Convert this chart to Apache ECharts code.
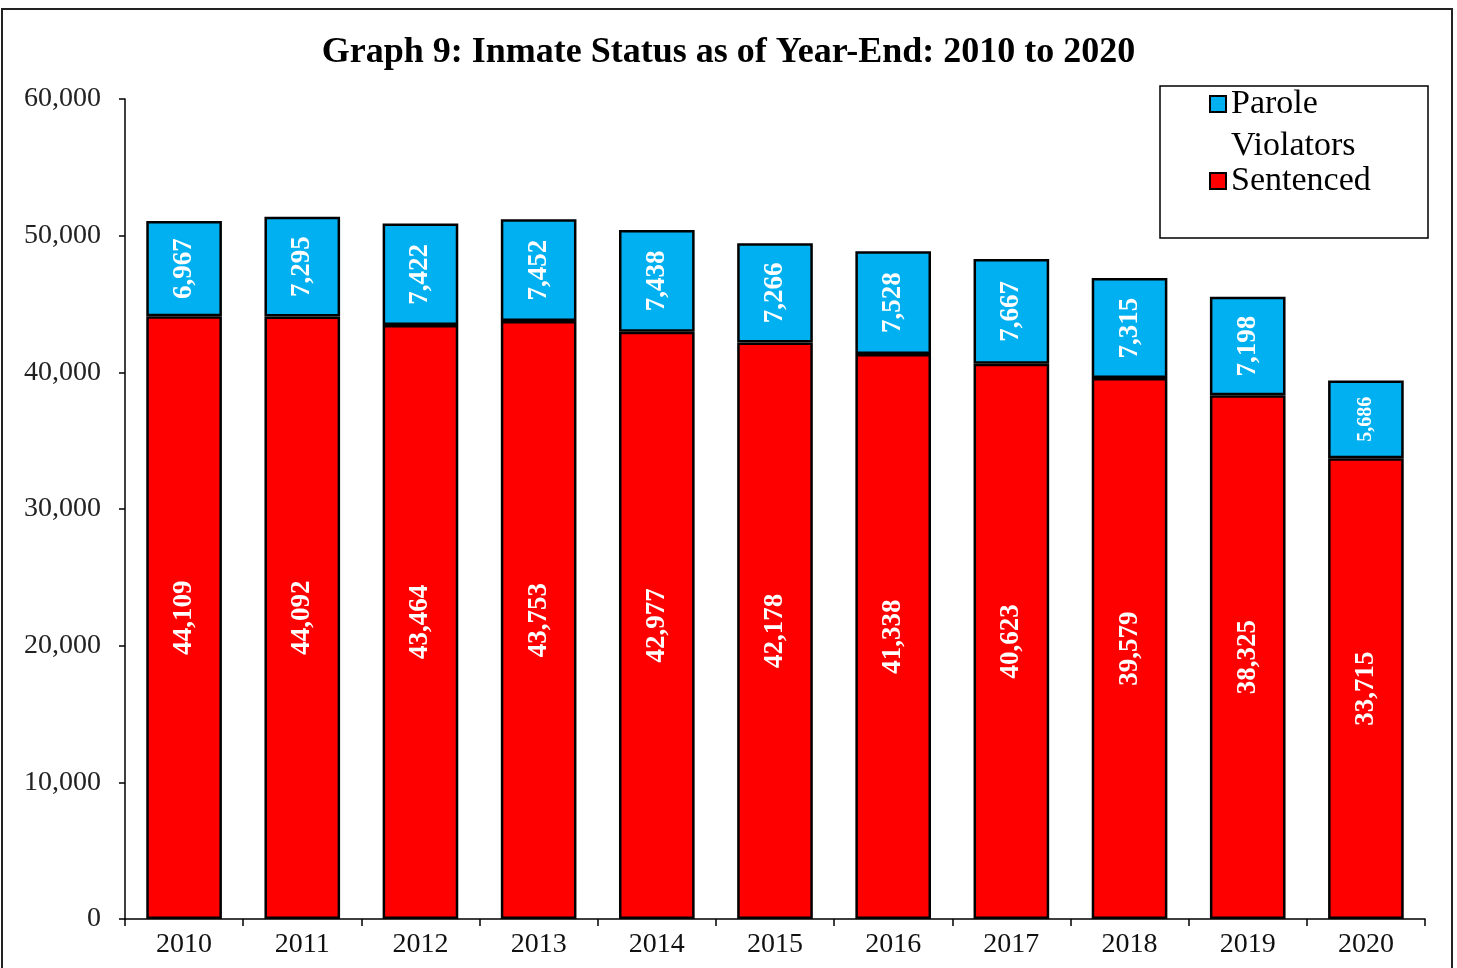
<!DOCTYPE html>
<html>
<head>
<meta charset="utf-8">
<script src="https://cdn.jsdelivr.net/npm/echarts@6/dist/echarts.min.js"></script>
<style>
  html, body { margin: 0; padding: 0; background: #fff; }
  #main { width: 1457px; height: 968px; }
</style>
</head>
<body>
<div id="main"></div>
<script>
  // values
  var years = ['2010', '2011', '2012', '2013', '2014', '2015', '2016', '2017', '2018', '2019', '2020'];
  var sentenced = [44109, 44092, 43464, 43753, 42977, 42178, 41338, 40623, 39579, 38325, 33715];
  var paroleViolators = [6967, 7295, 7422, 7452, 7438, 7266, 7528, 7667, 7315, 7198, 5686];

  var serif = 'Liberation Serif';
  var fmt = function (v) { return Number(v).toLocaleString('en-US'); };

  var chartDom = document.getElementById('main');
  var myChart = echarts.init(chartDom);
  var option;

  option = {
    backgroundColor: '#fff',
    animation: false,
    title: {
      text: 'Graph 9: Inmate Status as of Year-End: 2010 to 2020',
      left: 'center',
      top: 30,
      textStyle: {
        fontFamily: serif,
        fontWeight: 'bold',
        fontSize: 36,
        color: '#000'
      }
    },
    graphic: [
      {
        type: 'rect',
        shape: { x: 2, y: 9, width: 1450, height: 975 },
        style: { fill: 'none', stroke: '#222', lineWidth: 2 },
        silent: true
      },
      {
        type: 'rect',
        shape: { x: 1160, y: 86, width: 268, height: 152 },
        style: { fill: '#fff', stroke: '#000', lineWidth: 1.5 },
        silent: true,
        z: 0
      }
    ],
    legend: {
      orient: 'vertical',
      left: 1209,
      top: 41,
      padding: 0,
      itemWidth: 16,
      itemHeight: 16,
      itemGap: -7,
      icon: 'rect',
      z: 5,
      textStyle: {
        fontFamily: serif,
        fontSize: 34,
        lineHeight: 42,
        color: '#000',
        rich: {
          pad: { fontSize: 34, lineHeight: 42 }
        }
      },
      // an empty first line lifts the wrapped name so "Parole" sits beside the icon
      formatter: function (name) {
        return name.indexOf(' ') > 0 ? '{pad| }\n' + name.replace(' ', '\n') : name;
      },
      data: ['Parole Violators', 'Sentenced']
    },
    grid: {
      left: 125,
      right: 32,
      top: 99,
      bottom: 49
    },
    xAxis: {
      type: 'category',
      data: years,
      axisLine: { show: true, lineStyle: { color: '#000', width: 1.5 } },
      axisTick: { show: true, length: 7, lineStyle: { color: '#000', width: 1.5 } },
      axisLabel: {
        fontFamily: serif,
        fontSize: 28,
        color: '#111',
        margin: 12
      }
    },
    yAxis: {
      type: 'value',
      min: 0,
      max: 60000,
      interval: 10000,
      splitLine: { show: false },
      axisLine: { show: true, lineStyle: { color: '#000', width: 1.5 } },
      axisTick: { show: true, length: 6, lineStyle: { color: '#000', width: 1.5 } },
      axisLabel: {
        fontFamily: serif,
        fontSize: 28,
        color: '#222',
        margin: 24,
        formatter: fmt
      }
    },
    series: [
      {
        name: 'Sentenced',
        type: 'bar',
        stack: 'total',
        barWidth: '64%',
        data: sentenced,
        itemStyle: { color: '#ff0000', borderColor: '#000', borderWidth: 2.5 },
        label: {
          show: true,
          position: 'inside',
          rotate: 90,
          color: '#fff',
          fontFamily: serif,
          fontWeight: 'bold',
          fontSize: 27,
          formatter: function (p) { return fmt(p.value); }
        }
      },
      {
        name: 'Parole Violators',
        type: 'bar',
        stack: 'total',
        barWidth: '64%',
        data: paroleViolators,
        itemStyle: { color: '#00b0f0', borderColor: '#000', borderWidth: 2.5 },
        label: {
          show: true,
          position: 'inside',
          rotate: 90,
          color: '#fff',
          fontFamily: serif,
          fontWeight: 'bold',
          fontSize: 27,
          formatter: function (p) { return fmt(p.value); }
        },
        labelLayout: function (params) {
          // the last, shortest segment uses a smaller label
          return params.dataIndex === paroleViolators.length - 1 ? { fontSize: 20 } : {};
        }
      }
    ]
  };

  option && myChart.setOption(option);
</script>
</body>
</html>
